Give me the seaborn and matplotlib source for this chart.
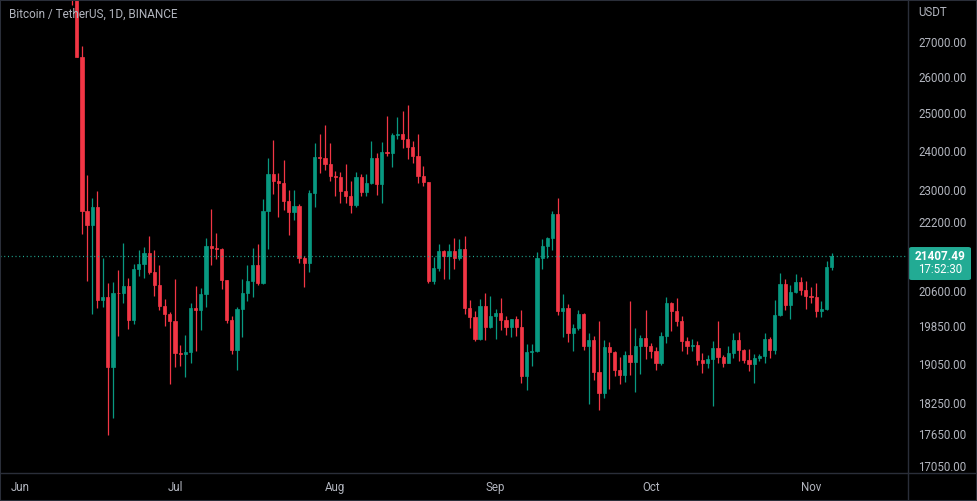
"""
BTC/USDT daily candles (Binance), Jun 11 - Nov 5 2022, TradingView-like dark chart.
Output: out.png (977x501)
"""

import matplotlib

matplotlib.use("Agg")
import matplotlib.dates as mdates
import matplotlib.pyplot as plt
import numpy as np
import pandas as pd
import seaborn as sns
from matplotlib.lines import Line2D
from matplotlib.patches import FancyBboxPatch, Rectangle
from matplotlib.ticker import FixedLocator, FuncFormatter, NullLocator

# ---- data (daily OHLC, one row per day starting 2022-06-11) ----
start_date = "2022-06-11"
end_date = "2022-11-05"

opens = [
    # Jun 11-30
    29084, 28424, 26574, 22485, 22136, 22583, 20400, 20468, 18970, 20574,
    20573, 20719, 19965, 21099, 21226, 21489, 21038, 20735, 20280, 20105,
    # Jul
    19942, 19279, 19242, 19297, 20231, 20190, 20548, 21637, 21590, 21580,
    20862, 19963, 19329, 20213, 20569, 20836, 21190, 20779, 22485, 23389,
    23231, 23164, 22714, 22465, 22609, 21361, 21239, 22930, 23843, 23804, 23656,
    # Aug
    23336, 23314, 22978, 22846, 22630, 23312, 22954, 23175, 23810, 23149,
    23954, 23935, 24404, 24442, 24306, 24102, 23854, 23342, 23191, 20834,
    21140, 21515, 21400, 21529, 21368, 21565, 20241, 20037, 19555, 20285, 19811,
    # Sep
    20050, 20127, 19969, 19832, 19986, 19812, 18791, 19290, 19320, 21360,
    21648, 21826, 22396, 20173, 20226, 19701, 19803, 20113, 19416, 19537,
    18875, 18461, 19401, 19289, 18920, 18807, 19227, 19079, 19412, 19591,
    # Oct
    19422, 19310, 19056, 19629, 20337, 20158, 19960, 19531, 19418, 19447,
    19131, 19060, 19155, 19382, 19185, 19067, 19268, 19549, 19327, 19123,
    19042, 19164, 19204, 19570, 19330, 20080, 20772, 20295, 20595, 20818, 20635,
    # Nov 1-5
    20495, 20485, 20159, 20209, 21148,
]

highs = [
    29440, 28544, 26895, 23363, 22800, 22982, 21365, 20792, 20815, 21090,
    21723, 20900, 21222, 21538, 21610, 21868, 21540, 21200, 20432, 20140,
    20876, 19434, 19647, 20354, 20730, 20675, 21838, 22527, 21950, 21600,
    20868, 20059, 20250, 20888, 21200, 21588, 21684, 22780, 23800, 24276,
    23427, 23756, 23000, 22998, 22660, 21400, 22990, 24199, 24442, 24668, 24194,
    23464, 23459, 23647, 23229, 23450, 23400, 23400, 24245, 23925, 24227,
    24918, 24456, 24897, 25047, 25211, 24247, 24446, 23600, 23208, 21382,
    21700, 21548, 21684, 21819, 21812, 21886, 20402, 20158, 20433, 20576, 20490,
    20208, 20444, 20055, 20000, 20055, 20180, 19464, 19457, 21500, 21800,
    21860, 22488, 22799, 20541, 20330, 19890, 20189, 20130, 19689, 19634,
    19956, 19550, 19500, 19316, 19180, 19310, 20385, 19790, 19645, 20185,
    19484, 19395, 19719, 20475, 20365, 20456, 20060, 19600, 19559, 19528,
    19268, 19224, 19513, 19951, 19227, 19424, 19686, 19706, 19360, 19347,
    19250, 19257, 19695, 19601, 20400, 21020, 20872, 20750, 20988, 20930, 20840,
    20700, 20800, 20394, 21302, 21480,
]

lows = [
    28100, 26560, 21925, 20846, 20111, 20232, 20246, 17622, 17960, 19637,
    20348, 19770, 19890, 20939, 20906, 21000, 20500, 20187, 19848, 18626,
    18975, 19000, 18781, 19055, 19304, 19761, 20250, 21189, 21346, 20655,
    19900, 19240, 18910, 19617, 20384, 20478, 20750, 20760, 21581, 22906,
    22341, 22500, 21900, 22250, 21250, 20706, 21042, 22582, 23414, 23503, 23229,
    22850, 22664, 22681, 22435, 22586, 22853, 22841, 23154, 22865, 22664,
    23853, 23580, 24291, 24076, 23773, 23671, 23180, 23100, 20783, 20761,
    21068, 20890, 20890, 21112, 21310, 20107, 19800, 19520, 19552, 19540, 19800,
    19565, 19754, 19655, 19600, 19633, 18650, 18510, 19010, 19297, 21109,
    21360, 21538, 20071, 19617, 19497, 19320, 19748, 19335, 18232, 18711,
    18125, 18356, 18531, 18805, 18629, 18680, 18816, 18471, 18843, 19155,
    19159, 18920, 19025, 19490, 19730, 19853, 19320, 19255, 19320, 19026,
    18860, 18965, 18190, 19070, 18975, 19063, 19160, 19097, 19070, 18900,
    18650, 19110, 19070, 19157, 19241, 20050, 20200, 20000, 20560, 20515, 20217,
    20341, 20048, 20031, 20180, 21080,
]

closes = [
    28424, 26574, 22487, 22136, 22583, 20401, 20468, 18970, 20574, 20573,
    20719, 19965, 21099, 21226, 21489, 21038, 20735, 20280, 20105, 19942,
    19279, 19242, 19297, 20231, 20190, 20548, 21637, 21590, 21580, 20862,
    19963, 19329, 20213, 20569, 20836, 21190, 20779, 22485, 23389, 23231,
    23164, 22714, 22465, 22609, 21361, 21239, 22930, 23843, 23804, 23656, 23336,
    23314, 22978, 22846, 22630, 23312, 22954, 23175, 23810, 23149, 23954,
    23935, 24404, 24442, 24306, 24102, 23854, 23342, 23191, 20834, 21140,
    21515, 21400, 21529, 21368, 21565, 20241, 20037, 19555, 20285, 19811, 20050,
    20127, 19969, 19832, 19986, 19812, 18791, 19290, 19320, 21360, 21648,
    21826, 22396, 20173, 20226, 19701, 19803, 20113, 19416, 19537, 18875,
    18461, 19401, 19289, 18920, 18807, 19227, 19079, 19412, 19591, 19422,
    19310, 19056, 19629, 20337, 20158, 19960, 19531, 19418, 19447, 19131,
    19060, 19155, 19382, 19185, 19067, 19268, 19549, 19327, 19123, 19042,
    19164, 19204, 19570, 19330, 20080, 20772, 20295, 20595, 20818, 20635, 20495,
    20485, 20159, 20209, 21148, 21407.49,
]

price_ticks = [27000, 26000, 25000, 24000, 23000, 22200, 20600, 19850, 19050, 18250, 17650, 17050]
title_text = "Bitcoin / TetherUS, 1D, BINANCE"
currency_text = "USDT"
countdown_text = "17:52:30"

UP = "#089981"
DOWN = "#f23645"
LABEL_BG = "#22ab94"
TEXT = "#b2b5be"
LINES = "#2a2e39"

W, H = 977, 501


def main():
    sns.set_theme(style="dark", rc={"axes.facecolor": "#000000", "figure.facecolor": "#000000"})
    plt.rcParams["font.family"] = ["Roboto", "DejaVu Sans"]

    df = pd.DataFrame(
        {
            "date": pd.date_range(start_date, end_date, freq="D"),
            "open": opens,
            "high": highs,
            "low": lows,
            "close": closes,
        }
    )
    x = mdates.date2num(df["date"])
    colors = np.where(df["close"] >= df["open"], UP, DOWN)
    body_lo = np.minimum(df["open"], df["close"])
    body_h = (df["close"] - df["open"]).abs()

    fig = plt.figure(figsize=(W / 100, H / 100), dpi=100)
    ax = fig.add_axes([0, 28 / H, 908 / W, 473 / H])
    ax.set_facecolor("#000000")

    ax.vlines(x, df["low"], df["high"], colors=colors, linewidth=0.9)
    ax.bar(x, body_h, bottom=body_lo, width=0.62, color=colors, edgecolor=colors, linewidth=0.5)

    last = df["close"].iloc[-1]
    ax.axhline(last, color=LABEL_BG, linestyle=(0, (0.8, 2.2)), linewidth=0.9)

    ax.set_yscale("log")
    ax.set_ylim(16919, 28258)
    jul1 = mdates.date2num(pd.Timestamp("2022-07-01"))
    ax.set_xlim(jul1 - 33.84, jul1 + 141.75)

    ax.yaxis.tick_right()
    ax.yaxis.set_major_locator(FixedLocator(price_ticks))
    ax.yaxis.set_minor_locator(NullLocator())
    ax.yaxis.set_major_formatter(FuncFormatter(lambda v, _: f"{v:.2f}"))
    ax.xaxis.set_major_locator(mdates.MonthLocator())
    ax.xaxis.set_major_formatter(mdates.DateFormatter("%b"))
    ax.tick_params(axis="y", length=0, pad=7.2, labelsize=8.3, colors=TEXT)
    ax.tick_params(axis="x", length=0, pad=5.5, labelsize=8.3, colors=TEXT)
    ax.grid(False)
    for sp in ax.spines.values():
        sp.set_visible(False)

    # panel separators and outer frame
    fig.add_artist(Line2D([908 / W] * 2, [0, 1], transform=fig.transFigure, color=LINES, lw=1))
    fig.add_artist(Line2D([0, 1], [28 / H] * 2, transform=fig.transFigure, color=LINES, lw=1))
    fig.add_artist(Rectangle((0, 0), 1, 1, transform=fig.transFigure, fill=False, ec=LINES, lw=1.5))

    fig.text(9 / W, 1 - 14 / H, title_text, color=TEXT, fontsize=8.5, va="center", ha="left")
    fig.text(918 / W, 1 - 13 / H, currency_text, color=TEXT, fontsize=8.3, va="center", ha="left")

    # last price label
    y_fig = ax.transData.transform((x[-1], last))[1] / fig.bbox.height
    box = FancyBboxPatch(
        (909 / W, y_fig - 24 / H), 62 / W, 33 / H,
        boxstyle="round,pad=0,rounding_size=0.003",
        transform=fig.transFigure, fc=LABEL_BG, ec="none",
    )
    fig.add_artist(box)
    fig.text(940 / W, y_fig, f"{last:.2f}", color="white", fontsize=8.5, fontweight="bold",
             ha="center", va="center")
    fig.text(940 / W, y_fig - 13 / H, countdown_text, color="white", fontsize=8.3,
             ha="center", va="center")

    fig.savefig("out.png", dpi=100, facecolor="#000000")
    plt.close(fig)


if __name__ == "__main__":
    main()
